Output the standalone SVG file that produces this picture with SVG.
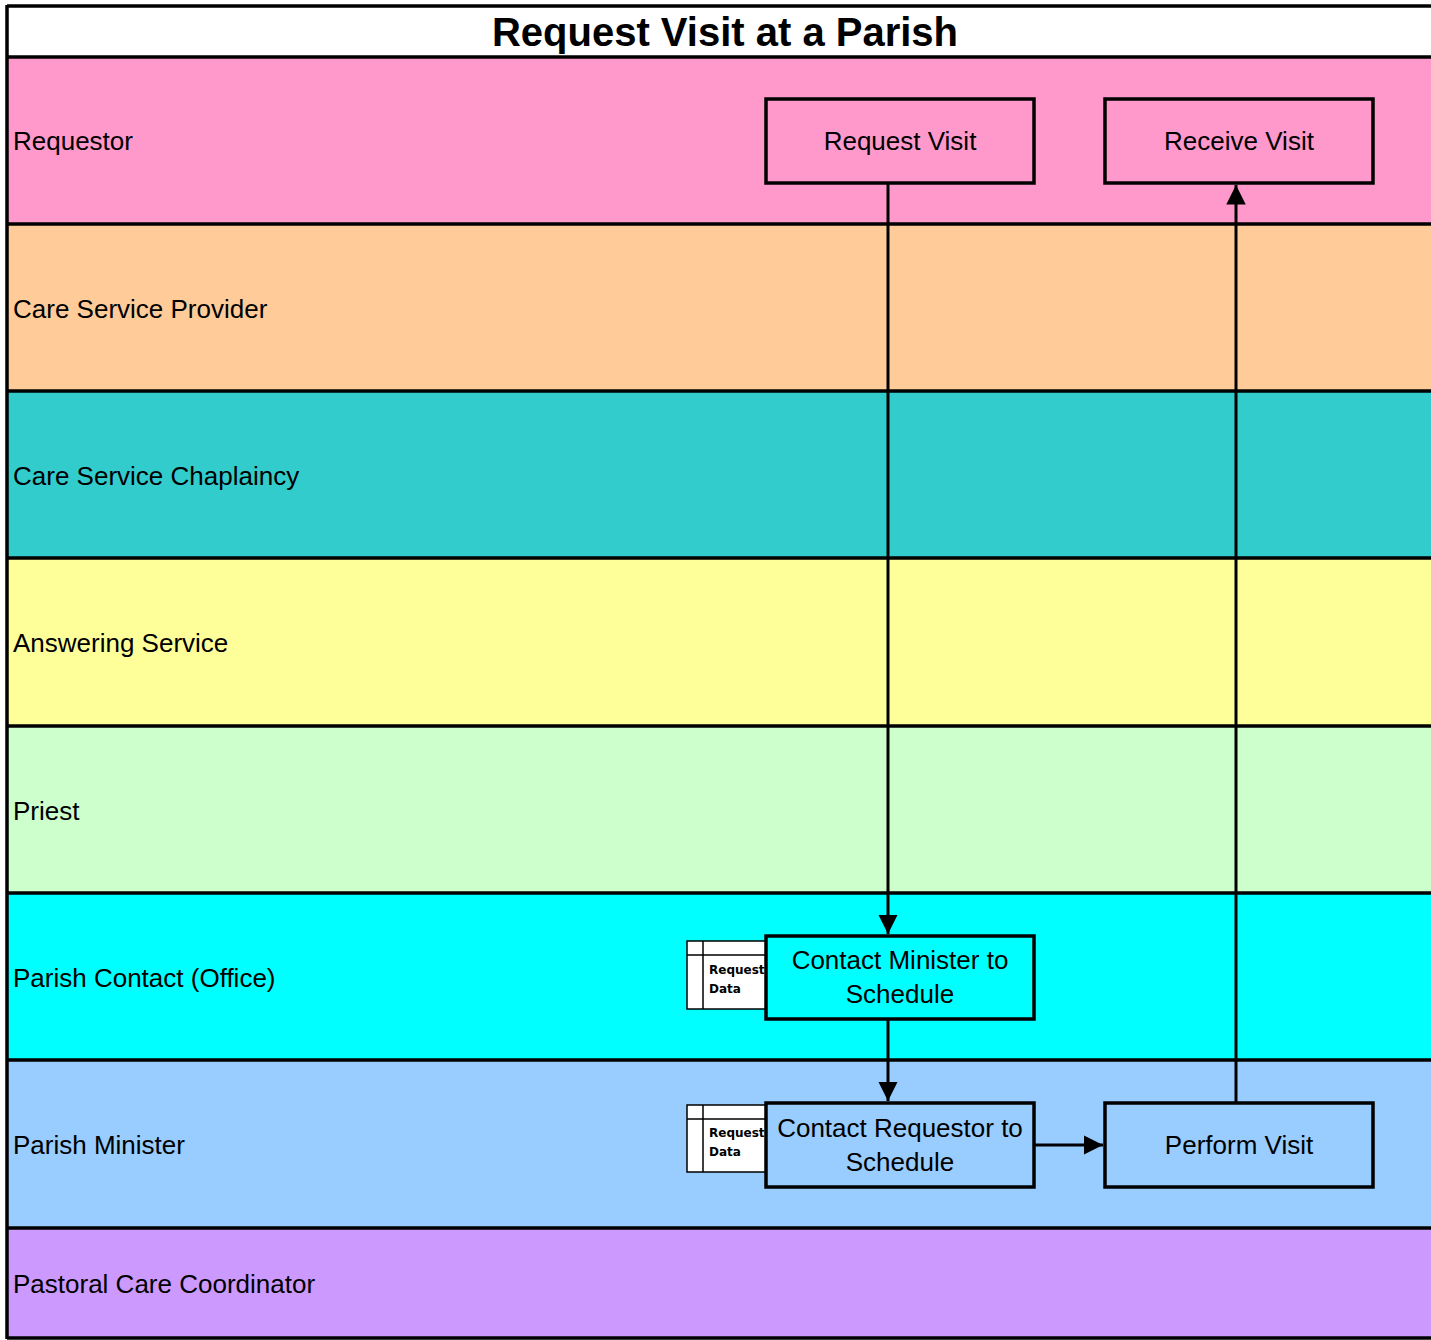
<svg xmlns="http://www.w3.org/2000/svg" width="1431" height="1340" viewBox="0 0 1431 1340">
<defs>
<style>
.lane{stroke:none}
.sep{stroke:#000;stroke-width:3.5;fill:none}
.lbl{font-family:"Liberation Sans",Arial,sans-serif;font-size:26px;fill:#000}
.box{stroke:#000;stroke-width:3.5}
.txt{font-family:"Liberation Sans",Arial,sans-serif;font-size:26px;fill:#000;text-anchor:middle}
.ds{fill:#fff;stroke:#000;stroke-width:1.5}
.dst{font-family:"DejaVu Sans",sans-serif;font-size:12px;font-weight:bold;fill:#000}
.con{stroke:#000;stroke-width:3;fill:none}
</style>
<marker id="ah" viewBox="0 0 10 10" refX="10" refY="5" markerWidth="6.5" markerHeight="6.5" markerUnits="strokeWidth" orient="auto">
<path d="M0,0 L10,5 L0,10 z" fill="#000"/>
</marker>
</defs>
<rect x="0" y="0" width="1431" height="1340" fill="#fff"/>
<g id="lanes">
<rect class="lane" x="7" y="57" width="1424" height="167" fill="#FF99CC"/>
<rect class="lane" x="7" y="224" width="1424" height="167" fill="#FFCC99"/>
<rect class="lane" x="7" y="391" width="1424" height="167" fill="#33CCCC"/>
<rect class="lane" x="7" y="558" width="1424" height="168" fill="#FFFF99"/>
<rect class="lane" x="7" y="726" width="1424" height="167" fill="#CCFFCC"/>
<rect class="lane" x="7" y="893" width="1424" height="167" fill="#00FFFF"/>
<rect class="lane" x="7" y="1060" width="1424" height="168" fill="#99CCFF"/>
<rect class="lane" x="7" y="1228" width="1424" height="110" fill="#CC99FF"/>
<path class="sep" d="M7,6 H1431 M7,57 H1431 M7,224 H1431 M7,391 H1431 M7,558 H1431 M7,726 H1431 M7,893 H1431 M7,1060 H1431 M7,1228 H1431 M7,1338 H1431 M7,5 V1339"/>
<text x="725" y="46" font-family="Liberation Sans,Arial,sans-serif" font-size="40" font-weight="bold" text-anchor="middle">Request Visit at a Parish</text>
<text class="lbl" x="13" y="150">Requestor</text>
<text class="lbl" x="13" y="318">Care Service Provider</text>
<text class="lbl" x="13" y="485">Care Service Chaplaincy</text>
<text class="lbl" x="13" y="652">Answering Service</text>
<text class="lbl" x="13" y="820">Priest</text>
<text class="lbl" x="13" y="987">Parish Contact (Office)</text>
<text class="lbl" x="13" y="1154">Parish Minister</text>
<text class="lbl" x="13" y="1293">Pastoral Care Coordinator</text>
</g>
<g id="connectors">
<path class="con" d="M888,183 V934" marker-end="url(#ah)"/>
<path class="con" d="M888,1019 V1101" marker-end="url(#ah)"/>
<path class="con" d="M1034,1145 H1103" marker-end="url(#ah)"/>
<path class="con" d="M1236,1103 V185" marker-end="url(#ah)"/>
</g>
<g id="ds1">
<rect class="ds" x="687" y="941" width="80" height="68"/>
<path class="ds" d="M687,955 H767 M703,941 V1009"/>
<text class="dst" x="709" y="974">Request</text>
<text class="dst" x="709" y="993">Data</text>
</g>
<g id="ds2">
<rect class="ds" x="687" y="1105" width="80" height="67"/>
<path class="ds" d="M687,1119 H767 M703,1105 V1172"/>
<text class="dst" x="709" y="1137">Request</text>
<text class="dst" x="709" y="1156">Data</text>
</g>
<g id="n-request-visit">
<rect class="box" x="766" y="99" width="268" height="84" fill="#FF99CC"/>
<text class="txt" x="900" y="150">Request Visit</text>
</g>
<g id="n-receive-visit">
<rect class="box" x="1105" y="99" width="268" height="84" fill="#FF99CC"/>
<text class="txt" x="1239" y="150">Receive Visit</text>
</g>
<g id="n-contact-minister">
<rect class="box" x="766" y="936" width="268" height="83" fill="#00FFFF"/>
<text class="txt" x="900" y="969">Contact Minister to</text>
<text class="txt" x="900" y="1003">Schedule</text>
</g>
<g id="n-contact-requestor">
<rect class="box" x="766" y="1103" width="268" height="84" fill="#99CCFF"/>
<text class="txt" x="900" y="1137">Contact Requestor to</text>
<text class="txt" x="900" y="1171">Schedule</text>
</g>
<g id="n-perform-visit">
<rect class="box" x="1105" y="1103" width="268" height="84" fill="#99CCFF"/>
<text class="txt" x="1239" y="1154">Perform Visit</text>
</g>
</svg>
